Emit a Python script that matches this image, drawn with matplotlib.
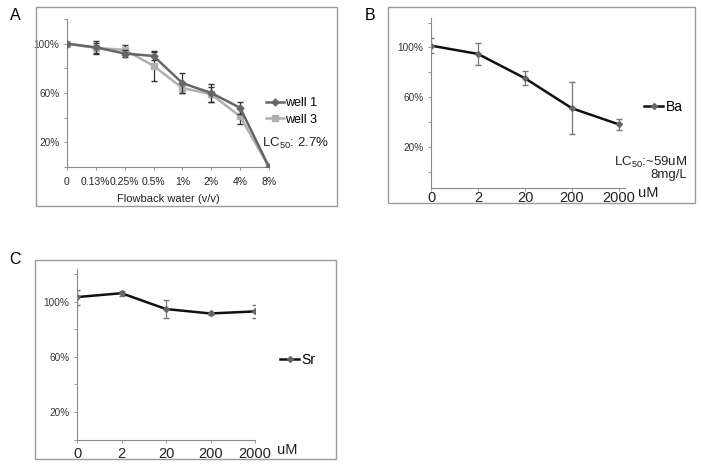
import matplotlib.pyplot as plt
from matplotlib.patches import Rectangle
import numpy as np

plt.rcParams['font.family'] = ['Liberation Sans', 'DejaVu Sans']
plt.rcParams['mathtext.fontset'] = 'custom'
plt.rcParams['mathtext.rm'] = 'Liberation Sans'
plt.rcParams['mathtext.it'] = 'Liberation Sans:italic'

# panel A: flowback water dilutions
a_labels = ["0", "0.13%", "0.25%", "0.5%", "1%", "2%", "4%", "8%"]
well1 = [100, 97, 92, 90, 68, 60, 48, 0]
well1_err = [0, 5, 3, 3, 8, 7, 5, 0]
well3 = [100, 96.5, 95, 82, 64, 59, 41, 0]
well3_err = [0, 4, 4, 12, 4, 6, 6, 0]

# panels B, C: metal concentration (uM)
conc_labels = ["0", "2", "20", "200", "2000"]
ba = [101.5, 94.8, 75.2, 51, 38]
ba_err = [6, 9, 5.6, 21, 4.7]
sr = [103.4, 106.2, 94.7, 91.5, 93]
sr_err = [5.4, 1.7, 6.8, 1, 4.5]

y_ticks = [0, 20, 40, 60, 80, 100, 120]
y_ticklabels = ["", "20%", "", "60%", "", "100%", ""]

W, H = 701, 468


def fx(x):
    return x / W


def fy(y):
    return 1 - y / H


def axes_px(fig, left, top, right, bottom):
    return fig.add_axes([fx(left), fy(bottom), (right - left) / W, (bottom - top) / H])


def frame(fig, left, top, right, bottom):
    fig.add_artist(Rectangle((fx(left), fy(bottom)), (right - left) / W, (bottom - top) / H,
                             transform=fig.transFigure, fill=False, ec="#9a9a9a", lw=1))


def style(ax, xfs, xpad):
    for s in ["top", "right"]:
        ax.spines[s].set_visible(False)
    for s in ["left", "bottom"]:
        ax.spines[s].set_color("#8a8a8a")
        ax.spines[s].set_linewidth(0.8)
    ax.set_yticks(y_ticks)
    ax.set_yticklabels(y_ticklabels)
    ax.tick_params(axis="y", length=2.5, width=0.6, color="#8a8a8a", labelsize=7.2,
                   labelcolor="#333333", pad=3)
    ax.tick_params(axis="x", length=2, width=0.6, color="#8a8a8a", labelsize=xfs,
                   labelcolor="#222222", pad=xpad)


fig = plt.figure(figsize=(7.01, 4.68), dpi=100)

# ---- A ----
frame(fig, 36, 7, 337, 206)
ax = axes_px(fig, 67, 19, 269, 167)
x = np.arange(len(a_labels))
ax.errorbar(x, well1, yerr=well1_err, color="#666666", lw=1.8, marker="D", ms=3.5,
            ecolor="#333333", elinewidth=0.9, capsize=2, label="well 1", zorder=3)
ax.errorbar(x, well3, yerr=well3_err, color="#b0b0b0", lw=1.8, marker="s", ms=4.5,
            ecolor="#333333", elinewidth=0.9, capsize=2, label="well 3", zorder=2)
ax.set_xlim(0, 7)
ax.set_ylim(0, 120)
ax.set_xticks(x)
ax.set_xticklabels(a_labels)
style(ax, 7.5, 5)
ax.set_xlabel("Flowback water (v/v)", fontsize=8, color="#222222", labelpad=5)
handles, labels = ax.get_legend_handles_labels()
handles = [h[0] for h in handles]
fig.legend(handles, labels, loc="upper left", bbox_to_anchor=(fx(260), fy(91)),
           frameon=False, fontsize=9, handlelength=1.4, handletextpad=0.1,
           borderpad=0, labelspacing=0.35)
fig.text(fx(262), fy(143), "LC$_{50}$: 2.7%", fontsize=9.5, va="center", color="#222222")
fig.text(fx(15), fy(15), "A", fontsize=11.5, ha="center", va="center")

# ---- B ----
frame(fig, 388, 7, 695, 203)
ax = axes_px(fig, 431, 17.7, 625, 187.7)
x = np.arange(len(conc_labels))
ax.errorbar(x, ba, yerr=ba_err, color="#111111", lw=1.8, marker="D", ms=3,
            mfc="#666666", mec="#666666", ecolor="#777777", elinewidth=0.9, capsize=2,
            label="Ba")
ax.set_xlim(0, 4.13)
ax.set_ylim(-13, 124)
ax.set_xticks(x)
ax.set_xticklabels(conc_labels)
style(ax, 10.5, 0.5)
h, l = ax.get_legend_handles_labels()
fig.legend([h[0][0]], l, loc="center left", bbox_to_anchor=(fx(637), fy(107)),
           frameon=False, fontsize=10, handlelength=1.4, handletextpad=0.15, borderpad=0)
fig.text(fx(648), fy(193), "uM", fontsize=10.5, ha="center", va="center", color="#222222")
fig.text(fx(687), fy(166), "LC$_{50}$:~59uM", fontsize=9.5, ha="right", va="baseline",
         color="#222222")
fig.text(fx(687), fy(178), "8mg/L", fontsize=9.5, ha="right", va="baseline",
         color="#222222")
fig.text(fx(370), fy(15), "B", fontsize=11.5, ha="center", va="center")

# ---- C ----
frame(fig, 35, 260, 336, 459)
ax = axes_px(fig, 77, 268.7, 255, 439.5)
ax.errorbar(x, sr, yerr=sr_err, color="#111111", lw=1.8, marker="D", ms=3,
            mfc="#666666", mec="#666666", ecolor="#777777", elinewidth=0.9, capsize=2,
            label="Sr")
ax.set_xlim(0, 4)
ax.set_ylim(0, 124)
ax.set_xticks(x)
ax.set_xticklabels(conc_labels)
style(ax, 10.5, 3.5)
h, l = ax.get_legend_handles_labels()
fig.legend([h[0][0]], l, loc="center left", bbox_to_anchor=(fx(273), fy(360)),
           frameon=False, fontsize=10, handlelength=1.4, handletextpad=0.15, borderpad=0)
fig.text(fx(287), fy(450), "uM", fontsize=10.5, ha="center", va="center", color="#222222")
fig.text(fx(15), fy(259), "C", fontsize=11.5, ha="center", va="center")

fig.savefig("out.png", dpi=100)
